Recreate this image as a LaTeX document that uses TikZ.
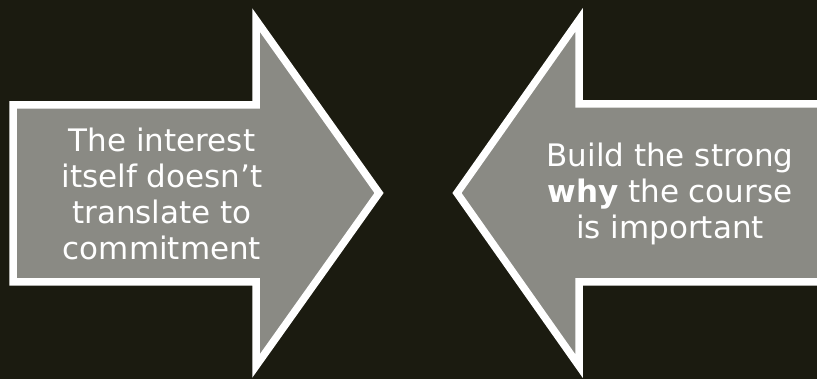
\documentclass[tikz,border=0pt]{standalone}
\usepackage{fontspec}
\setmainfont{DejaVu Sans}
\definecolor{bgdark}{HTML}{1B1B10}
\definecolor{arrowgray}{HTML}{8A8A84}
\tikzset{
  bigarrow/.style={fill=arrowgray, draw=white, line width=7.5pt, line join=miter},
  arrowtext/.style={text=white, align=center, font=\fontsize{31}{36}\selectfont}
}
\begin{document}
\begin{tikzpicture}[x=1pt,y=-1pt]
        \useasboundingbox (0,0) rectangle (817,379);
        \fill[bgdark] (0,0) rectangle (817,379);
        \clip (0,0) rectangle (817,379);
        % left arrow, pointing right
        \draw[bigarrow] (13,105) -- (256,105) -- (256,20) -- (379,193)
            -- (256,366) -- (256,282) -- (13,282) -- cycle;
        % right arrow, pointing left
        \draw[bigarrow] (830,104) -- (579,104) -- (579,20) -- (457,193)
            -- (579,366) -- (579,282) -- (830,282) -- cycle;
        \node[arrowtext] (interest) at (162,194) {The interest\\itself doesn’t\\translate to\\commitment};
        \node[arrowtext] (why) at (670,194) {Build the strong\\\textbf{why} the course\\is important};
    \end{tikzpicture}
\end{document}
